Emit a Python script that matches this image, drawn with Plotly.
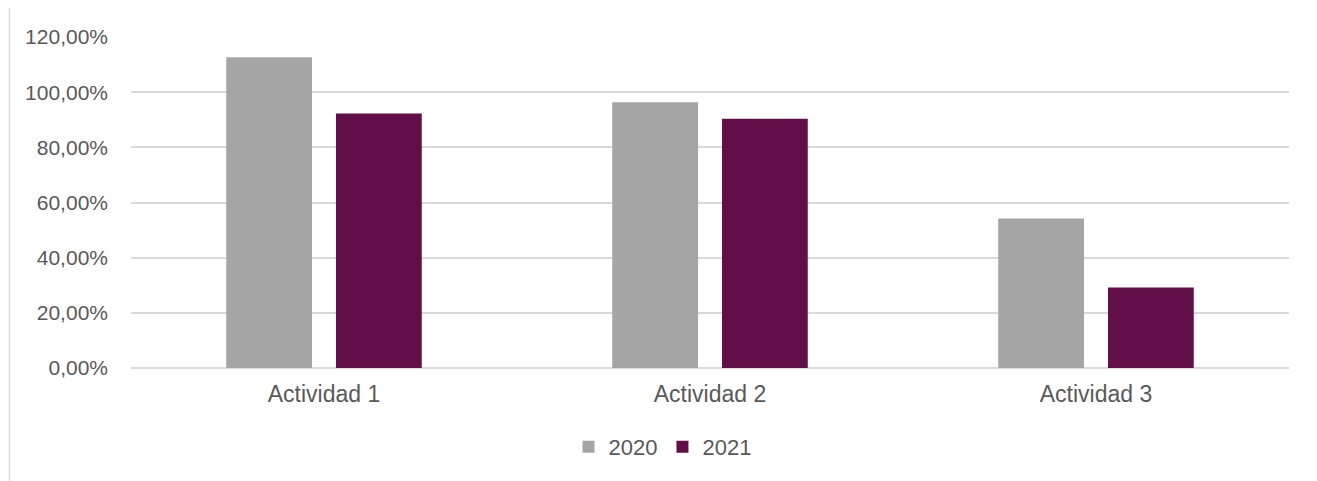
import plotly.graph_objects as go

categories = ["Actividad 1", "Actividad 2", "Actividad 3"]
values_2020 = [112.7, 96.3, 54.2]
values_2021 = [92.3, 90.4, 29.2]
series_names = ["2020", "2021"]
tick_vals = [0, 20, 40, 60, 80, 100, 120]
tick_text = ["0,00%", "20,00%", "40,00%", "60,00%", "80,00%", "100,00%", "120,00%"]

GRAY = "#A5A5A5"
PURPLE = "#620E48"
TEXT = "#595959"
GRID = "#D9D9D9"
FONT = "Liberation Sans, Arial, sans-serif"

fig = go.Figure()
fig.add_trace(go.Bar(x=categories, y=values_2020, name=series_names[0],
                     marker=dict(color=GRAY, line=dict(width=0))))
fig.add_trace(go.Bar(x=categories, y=values_2021, name=series_names[1],
                     marker=dict(color=PURPLE, line=dict(width=0))))

OFF = 8  # page body margin
W, H = 1317 - OFF, 481 - OFF
L, R, T, B = 131 - OFF, 28, 37 - OFF, 113
fig.update_layout(
    width=W, height=H,
    margin=dict(l=L, r=R, t=T, b=B, pad=0),
    paper_bgcolor="white", plot_bgcolor="white",
    barmode="group", bargap=0.4315, bargroupgap=0.218,
    font=dict(family=FONT, color=TEXT),
    showlegend=True,
    legend=dict(orientation="h", xref="container", x=0.50, xanchor="center",
                yref="container", y=(H - (447 - OFF)) / H, yanchor="middle",
                font=dict(size=22, color=TEXT, family=FONT),
                itemwidth=30, traceorder="normal", bgcolor="rgba(0,0,0,0)"),
    hovermode=False,
)
fig.update_xaxes(showgrid=False, showline=False, zeroline=False, ticks="",
                 tickfont=dict(size=23, color=TEXT, family=FONT),
                 ticklabelstandoff=10)
fig.update_yaxes(range=[0, 120], tickvals=tick_vals, ticktext=tick_text,
                 showgrid=True, gridcolor=GRID, gridwidth=1.5,
                 zeroline=True, zerolinecolor=GRID, zerolinewidth=1.5,
                 showline=False, ticks="",
                 tickfont=dict(size=21, color=TEXT, family=FONT),
                 ticklabelstandoff=22)

plot_w = W - L - R
fig.add_shape(type="line", xref="paper", yref="paper",
              x0=(9.5 - 131) / plot_w, x1=(9.5 - 131) / plot_w,
              y0=-1, y1=2, line=dict(color=GRID, width=1.5), layer="below")

fig.write_html("out.html")
